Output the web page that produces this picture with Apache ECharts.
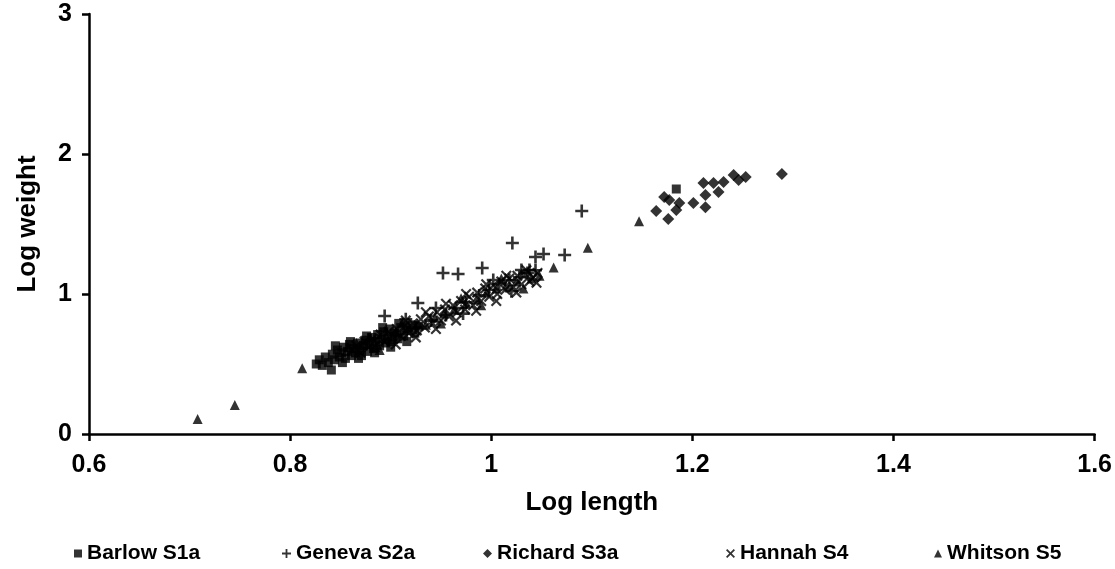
<!DOCTYPE html>
<html><head><meta charset="utf-8">
<script src="https://cdn.jsdelivr.net/npm/echarts@6/dist/echarts.min.js"></script>
<style>html,body{margin:0;padding:0;background:#fff}#c{width:1115px;height:569px}</style>
</head><body><div id="c"></div>
<script>
const xTicks = [0.6, 0.8, 1, 1.2, 1.4, 1.6];
const yTicks = [0, 1, 2, 3];
const seriesNames = ['Barlow S1a', 'Geneva S2a', 'Richard S3a', 'Hannah S4', 'Whitson S5'];

const barlow = [[0.826,0.50],[0.829,0.53],[0.832,0.49],[0.835,0.55],[0.838,0.51],[0.841,0.457],[0.842,0.57],[0.844,0.53],[0.847,0.60],[0.849,0.55],[0.851,0.58],[0.853,0.62],[0.855,0.54],[0.857,0.59],[0.859,0.64],[0.861,0.56],[0.863,0.61],[0.865,0.58],[0.867,0.65],[0.869,0.60],[0.871,0.56],[0.873,0.63],[0.875,0.67],[0.877,0.59],[0.879,0.64],[0.881,0.69],[0.883,0.61],[0.885,0.66],[0.887,0.71],[0.889,0.63],[0.891,0.68],[0.893,0.73],[0.895,0.65],[0.897,0.70],[0.899,0.75],[0.901,0.66],[0.904,0.72],[0.907,0.68],[0.910,0.76],[0.913,0.70],[0.916,0.74],[0.920,0.78],[0.924,0.72],[0.928,0.77],[0.845,0.63],[0.852,0.51],[0.860,0.66],[0.868,0.54],[0.876,0.70],[0.884,0.58],[0.892,0.76],[0.900,0.62],[0.908,0.79],[0.916,0.66],[1.184,1.75]];
const geneva = [[1.090,1.593],[1.021,1.364],[1.044,1.264],[1.052,1.286],[1.073,1.279],[0.991,1.186],[1.030,1.171],[1.038,1.171],[0.952,1.15],[0.967,1.143],[0.927,0.936],[0.894,0.843],[0.880,0.67],[0.905,0.71],[0.925,0.76],[0.940,0.81],[0.955,0.85],[0.965,0.90],[0.975,0.94],[0.988,0.99],[0.998,1.03],[1.008,1.07],[1.018,1.10],[1.028,1.12],[1.036,1.15],[1.044,1.17],[0.915,0.82],[0.945,0.90],[0.972,0.86],[1.002,1.10],[1.020,1.02]];
const richard = [[1.164,1.593],[1.176,1.536],[1.172,1.693],[1.177,1.671],[1.187,1.65],[1.184,1.60],[1.201,1.65],[1.213,1.62],[1.213,1.707],[1.211,1.793],[1.221,1.793],[1.226,1.729],[1.231,1.80],[1.241,1.85],[1.246,1.814],[1.253,1.836],[1.289,1.857]];
const hannah = [[0.862,0.60],[0.866,0.63],[0.870,0.58],[0.874,0.66],[0.878,0.62],[0.882,0.68],[0.886,0.64],[0.890,0.71],[0.894,0.66],[0.898,0.73],[0.902,0.68],[0.906,0.75],[0.910,0.70],[0.914,0.77],[0.918,0.72],[0.922,0.79],[0.926,0.74],[0.930,0.82],[0.934,0.76],[0.938,0.84],[0.942,0.79],[0.946,0.87],[0.950,0.81],[0.954,0.89],[0.958,0.84],[0.962,0.92],[0.966,0.87],[0.970,0.95],[0.974,0.89],[0.978,0.98],[0.982,0.92],[0.986,1.01],[0.990,0.95],[0.994,1.04],[0.998,0.98],[1.002,1.06],[1.006,1.00],[1.010,1.09],[1.014,1.03],[1.018,1.11],[1.022,1.05],[1.026,1.13],[1.030,1.07],[1.034,1.14],[1.038,1.09],[1.042,1.12],[1.046,1.15],[0.905,0.64],[0.915,0.81],[0.925,0.69],[0.935,0.87],[0.945,0.75],[0.955,0.93],[0.965,0.81],[0.975,1.00],[0.985,0.88],[0.995,1.07],[1.005,0.95],[1.015,1.13],[1.025,1.01],[1.035,1.17],[1.045,1.08]];
const whitson = [[0.708,0.107],[0.745,0.207],[0.812,0.47],[0.866,0.65],[1.062,1.19],[1.096,1.33],[1.147,1.52],[0.872,0.64],[0.885,0.62],[0.897,0.68],[0.905,0.73],[0.918,0.76],[0.927,0.79],[0.935,0.78],[0.944,0.83],[0.953,0.86],[0.963,0.89],[0.975,0.93],[0.985,0.96],[0.995,1.01],[1.005,1.04],[1.015,1.06],[1.025,1.09],[1.040,1.11],[1.048,1.13],[0.858,0.62],[0.889,0.60],[0.912,0.80],[0.950,0.79],[0.970,0.97],[0.990,0.92],[1.010,1.11],[1.032,1.04]];

const PLUS = 'path://M4,0h2v4h4v2h-4v4h-2v-4h-4v-2h4z';
const CROSS = 'path://M0,1.4L1.4,0L5,3.6L8.6,0L10,1.4L6.4,5L10,8.6L8.6,10L5,6.4L1.4,10L0,8.6L3.6,5Z';
const FONT = '"Liberation Sans", Arial, sans-serif';
const chart = echarts.init(document.getElementById('c'), null, {renderer: 'canvas'});
const blackItem = {color: '#000'};
function legendAt(name, left, icon, size) {
  return {data: [{name: name, icon: icon}], left: left, top: 538, itemWidth: size, itemHeight: size, itemGap: 0,
    textStyle: {fontFamily: FONT, fontWeight: 'bold', fontSize: 21, color: '#000'}, selectedMode: false};
}
chart.setOption({
  animation: false,
  backgroundColor: '#fff',
  grid: {left: 89, right: 17, top: 14, bottom: 135},
  legend: [
    legendAt(seriesNames[0], 69, 'rect', 8),
    legendAt(seriesNames[1], 277, PLUS, 9),
    legendAt(seriesNames[2], 478, 'diamond', 9),
    legendAt(seriesNames[3], 721, CROSS, 9),
    legendAt(seriesNames[4], 929, 'triangle', 8)
  ],
  xAxis: {
    type: 'value', min: 0.6, max: 1.6, interval: 0.2,
    name: 'Log length', nameLocation: 'middle', nameGap: 56,
    nameTextStyle: {fontFamily: FONT, fontWeight: 'bold', fontSize: 26, color: '#000'},
    axisLine: {onZero: false, lineStyle: {color: '#000', width: 2.5}},
    axisTick: {show: true, inside: false, length: 7, lineStyle: {color: '#000', width: 2.5}},
    axisLabel: {margin: 19, fontFamily: FONT, fontWeight: 'bold', fontSize: 25, color: '#000',
      formatter: v => { const t = xTicks.find(k => Math.abs(k - v) < 1e-9); return t === undefined ? '' : String(t); }},
    splitLine: {show: false}
  },
  yAxis: {
    type: 'value', min: 0, max: 3, interval: 1,
    name: 'Log weight', nameLocation: 'middle', nameGap: 48, nameRotate: 90,
    nameTextStyle: {fontFamily: FONT, fontWeight: 'bold', fontSize: 26, color: '#000'},
    axisLine: {show: true, onZero: false, lineStyle: {color: '#000', width: 2.5}},
    axisTick: {show: true, inside: false, length: 7, lineStyle: {color: '#000', width: 2.5}},
    axisLabel: {margin: 17, fontFamily: FONT, fontWeight: 'bold', fontSize: 25, color: '#000',
      formatter: v => { const t = yTicks.find(k => Math.abs(k - v) < 1e-9); return t === undefined ? '' : String(t); }},
    splitLine: {show: false}
  },
  series: [
    {name: seriesNames[0], type: 'scatter', symbol: 'rect', symbolSize: 9, itemStyle: blackItem, data: barlow},
    {name: seriesNames[1], type: 'scatter', symbol: PLUS, symbolSize: 13, itemStyle: blackItem, data: geneva},
    {name: seriesNames[2], type: 'scatter', symbol: 'diamond', symbolSize: 12, itemStyle: blackItem, data: richard},
    {name: seriesNames[3], type: 'scatter', symbol: CROSS, symbolSize: 11, itemStyle: blackItem, data: hannah},
    {name: seriesNames[4], type: 'scatter', symbol: 'triangle', symbolSize: 10, itemStyle: blackItem, data: whitson}
  ]
});
</script></body></html>
